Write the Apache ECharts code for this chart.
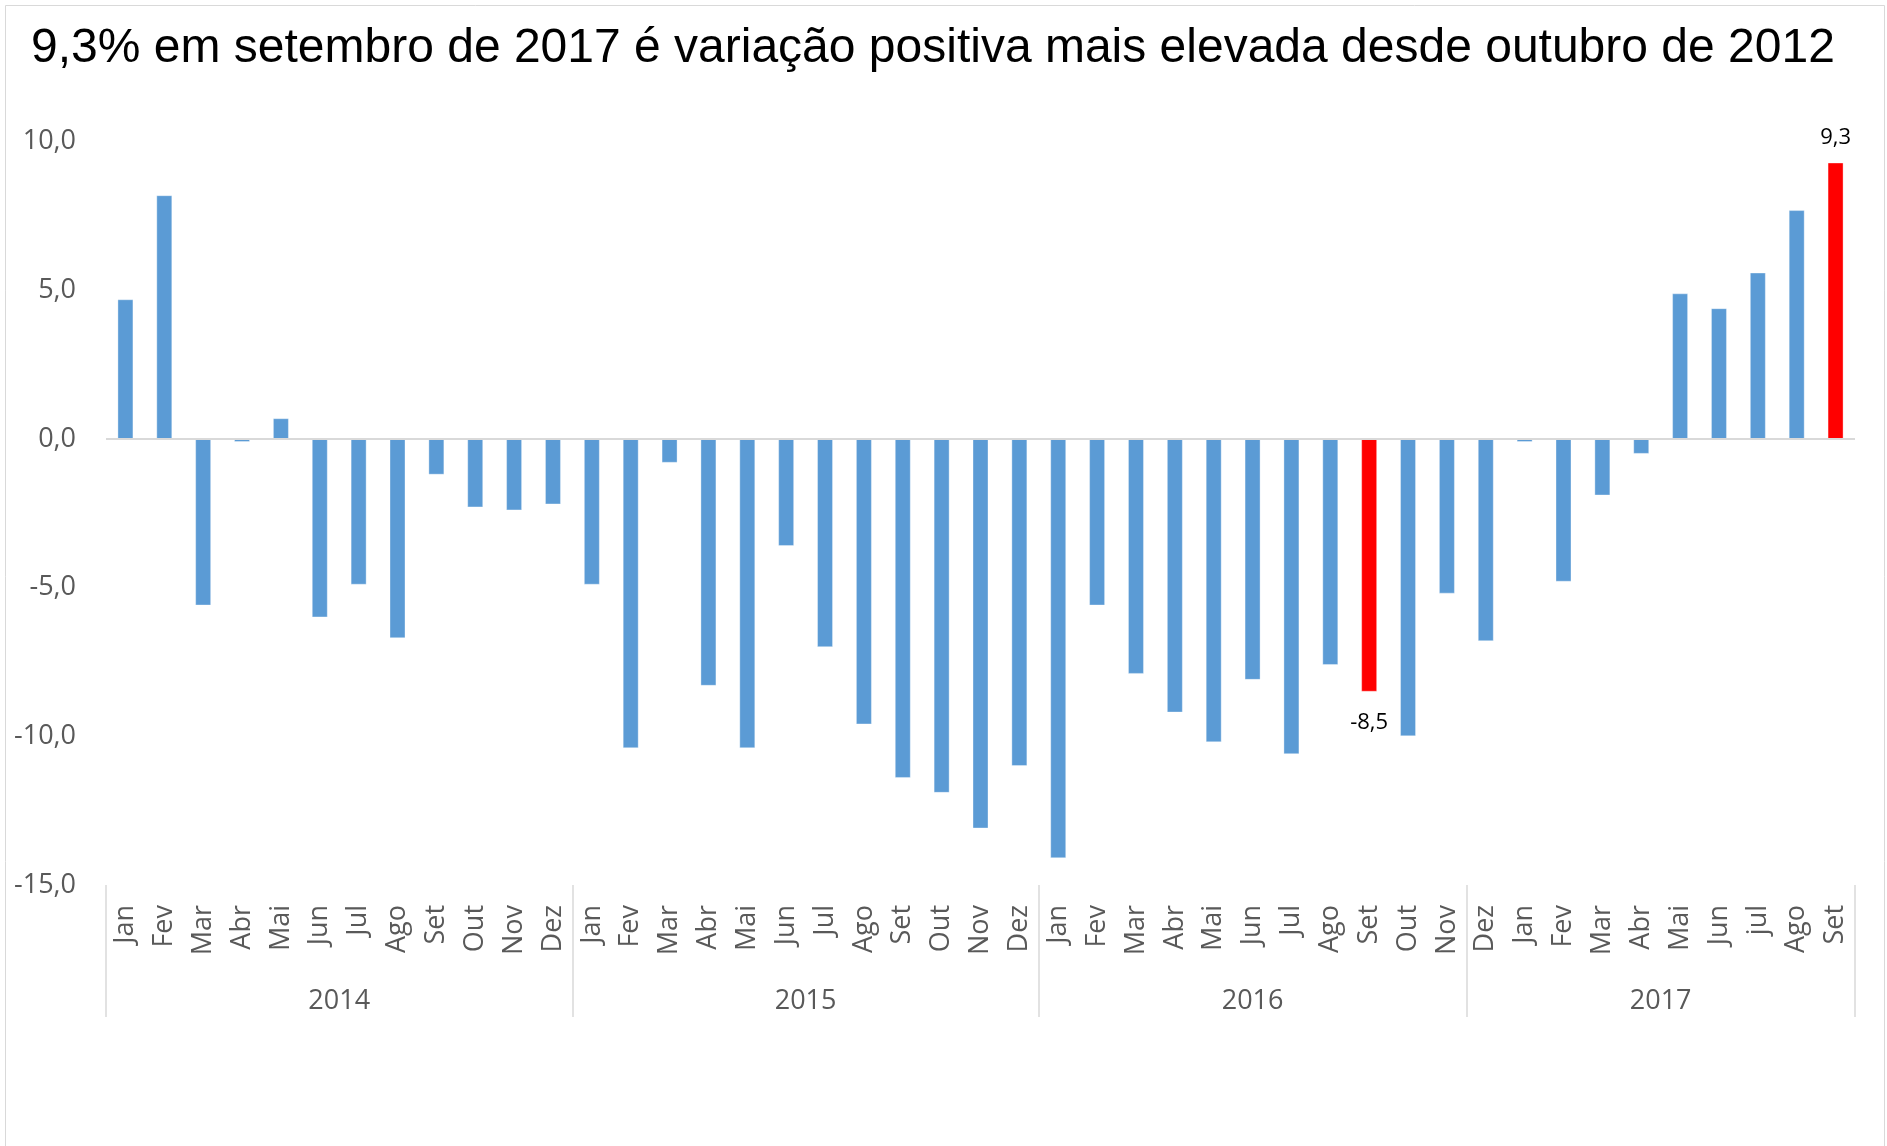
<!DOCTYPE html>
<html>
<head>
<meta charset="utf-8">
<script src="https://cdn.jsdelivr.net/npm/echarts@6/dist/echarts.min.js"></script>
<style>
html,body{margin:0;padding:0;background:#fff;}
#chart{width:1887px;height:1146px;}
</style>
</head>
<body>
<div id="chart"></div>
<script>
var titleText = '9,3% em setembro de 2017 é variação positiva mais elevada desde outubro de 2012';
var months = ['Jan','Fev','Mar','Abr','Mai','Jun','Jul','Ago','Set','Out','Nov','Dez',
              'Jan','Fev','Mar','Abr','Mai','Jun','Jul','Ago','Set','Out','Nov','Dez',
              'Jan','Fev','Mar','Abr','Mai','Jun','Jul','Ago','Set','Out','Nov',
              'Dez','Jan','Fev','Mar','Abr','Mai','Jun','jul','Ago','Set'];
var values = [4.7, 8.2, -5.6, -0.1, 0.7, -6.0, -4.9, -6.7, -1.2, -2.3, -2.4, -2.2,
              -4.9, -10.4, -0.8, -8.3, -10.4, -3.6, -7.0, -9.6, -11.4, -11.9, -13.1, -11.0,
              -14.1, -5.6, -7.9, -9.2, -10.2, -8.1, -10.6, -7.6, -8.5, -10.0, -5.2,
              -6.8, -0.1, -4.8, -1.9, -0.5, 4.9, 4.4, 5.6, 7.7, 9.3];
var yearLabels = ['2014','2015','2016','2017'];
var groupSizes = [12, 12, 11, 10];
var highlighted = [32, 44];
var yTicks = [-15, -10, -5, 0, 5, 10];

var blue = '#5b9bd5', red = '#ff0000';
var fmt = function (v) { return v.toFixed(1).replace('.', ','); };

var bounds = [0], centers = [];
groupSizes.forEach(function (s, i) {
  var start = bounds[bounds.length - 1];
  centers.push(start + s / 2);
  bounds.push(start + s);
});

var seriesData = values.map(function (v, i) {
  var hl = highlighted.indexOf(i) >= 0;
  var item = { value: v, itemStyle: { color: hl ? red : blue } };
  if (hl) {
    item.label = {
      show: true,
      position: v >= 0 ? 'top' : 'bottom',
      distance: v >= 0 ? 14 : 20,
      formatter: function (p) { return fmt(p.value); },
      color: '#000',
      fontFamily: 'Open Sans',
      fontSize: 22
    };
  }
  return item;
});

var chart = echarts.init(document.getElementById('chart'), null, { renderer: 'canvas' });
chart.setOption({
  backgroundColor: '#fff',
  animation: false,
  title: {
    text: titleText,
    left: 31, top: 25, padding: 0,
    textStyle: { fontFamily: 'Liberation Sans', fontSize: 48, fontWeight: 'normal', color: '#000' }
  },
  graphic: [{
    type: 'rect', z: -10, silent: true,
    shape: { x: 5.5, y: 5.5, width: 1879, height: 1160 },
    style: { fill: 'none', stroke: '#d9d9d9', lineWidth: 1 }
  }],
  grid: { left: 106, right: 32, top: 141.7, bottom: 261, containLabel: false },
  xAxis: [{
    type: 'category',
    data: months,
    position: 'bottom',
    axisLine: { show: false, onZero: false },
    axisTick: { show: false },
    axisLabel: {
      rotate: 90, margin: 20, interval: 0,
      fontFamily: 'Open Sans', fontSize: 27, color: '#595959'
    }
  }, {
    type: 'value',
    min: 0, max: values.length,
    position: 'bottom',
    axisLine: { show: false, onZero: false },
    splitLine: { show: false },
    axisTick: {
      show: true, inside: false, length: 132,
      customValues: bounds,
      lineStyle: { color: '#d9d9d9', width: 1.5 }
    },
    axisLabel: {
      show: true, margin: 103,
      customValues: centers,
      formatter: function (v) { return yearLabels[centers.indexOf(v)] || ''; },
      fontFamily: 'Open Sans', fontSize: 27, color: '#595959'
    }
  }],
  yAxis: {
    type: 'value',
    min: -15, max: 10, interval: 5,
    axisLine: { show: false },
    axisTick: { show: false },
    splitLine: { show: false },
    axisLabel: {
      margin: 30,
      formatter: function (v) { return fmt(v); },
      fontFamily: 'Open Sans', fontSize: 27, color: '#595959'
    }
  },
  series: [{
    type: 'bar',
    xAxisIndex: 0,
    data: seriesData,
    barWidth: 16,
    itemStyle: { borderColor: 'rgba(255,255,255,0.35)', borderWidth: 1 },
    markLine: {
      silent: true,
      symbol: 'none',
      label: { show: false },
      lineStyle: { color: '#d9d9d9', width: 2, type: 'solid' },
      data: [{ yAxis: 0 }]
    }
  }]
});
</script>
</body>
</html>
